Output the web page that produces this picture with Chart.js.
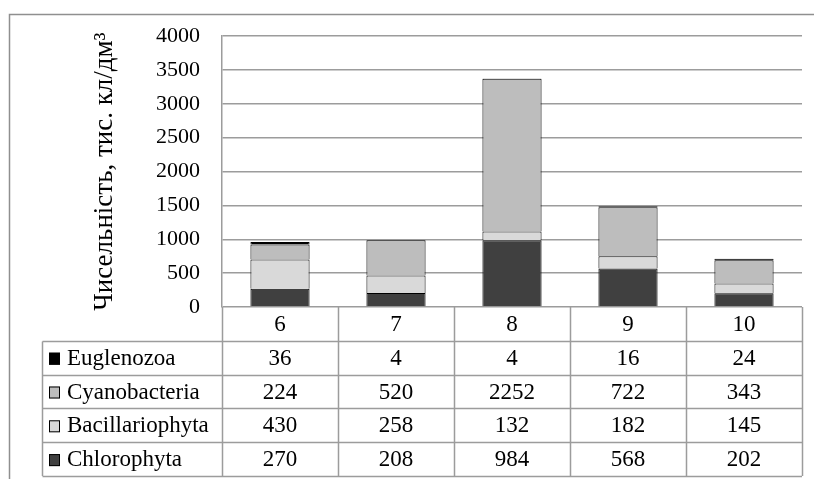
<!DOCTYPE html>
<html>
<head>
<meta charset="utf-8">
<script src="https://cdn.jsdelivr.net/npm/chart.js@4/dist/chart.umd.min.js"></script>
<style>
  body { margin: 0; background: #fff; }
  #wrap { width: 814px; height: 479px; position: relative; }
</style>
</head>
<body>
<div id="wrap"><canvas id="phyto"></canvas></div>
<script>
// month numbers along the bottom
const months = ['6', '7', '8', '9', '10'];
// cell counts per group, thousand cells/dm3
const chlorophyta = [270, 208, 984, 568, 202];
const bacillariophyta = [430, 258, 132, 182, 145];
const cyanobacteria = [224, 520, 2252, 722, 343];
const euglenozoa = [36, 4, 4, 16, 24];
const yMax = 4000, yStep = 500;

const serif = '"Liberation Serif", "Times New Roman", serif';
const lineGray = '#9c9c9c';

// frame round the whole figure (top and left edges only)
const frame = {
  id: 'frame',
  beforeDraw(chart) {
    const ctx = chart.ctx;
    ctx.save();
    ctx.strokeStyle = '#8f8f8f';
    ctx.lineWidth = 1.5;
    ctx.beginPath();
    ctx.moveTo(9.5, chart.height);
    ctx.lineTo(9.5, 14.5);
    ctx.lineTo(chart.width, 14.5);
    ctx.stroke();
    ctx.restore();
  }
};

// data table under the plot, columns follow the x scale
const dataTable = {
  id: 'dataTable',
  afterDraw(chart) {
    const ctx = chart.ctx;
    const xs = chart.scales.x;
    const area = chart.chartArea;
    const n = months.length;
    const colW = (area.right - area.left) / n;
    const top = area.bottom;
    const rowH = 33.8;
    const tableLeft = 42.5;
    const rows = chart.data.datasets.slice().reverse();
    const bottom = top + rowH * (rows.length + 1);

    ctx.save();
    ctx.strokeStyle = lineGray;
    ctx.lineWidth = 1.5;
    ctx.beginPath();
    for (let k = 1; k <= rows.length + 1; k++) {
      const y = Math.round(top + rowH * k) + 0.5;
      ctx.moveTo(tableLeft, y);
      ctx.lineTo(area.right, y);
    }
    ctx.moveTo(tableLeft, Math.round(top + rowH) + 0.5);
    ctx.lineTo(tableLeft, bottom);
    for (let i = 0; i <= n; i++) {
      const x = Math.round(area.left + colW * i) + 0.5;
      ctx.moveTo(x, top);
      ctx.lineTo(x, bottom);
    }
    ctx.stroke();

    ctx.font = '23px ' + serif;
    ctx.fillStyle = '#000';
    ctx.textBaseline = 'middle';
    ctx.textAlign = 'center';
    months.forEach((m, i) => {
      ctx.fillText(m, xs.getPixelForValue(i), top + rowH / 2 + 1);
    });

    rows.forEach((ds, r) => {
      const cy = top + rowH * (r + 1.5) + 1;
      // legend key
      ctx.fillStyle = ds.backgroundColor;
      ctx.fillRect(49, cy - 6, 11, 12);
      ctx.strokeStyle = '#000';
      ctx.lineWidth = 1;
      ctx.strokeRect(49.5, cy - 5.5, 10, 11);
      ctx.fillStyle = '#000';
      ctx.textAlign = 'left';
      ctx.fillText(ds.label, 67, cy);
      ctx.textAlign = 'center';
      ds.data.forEach((v, i) => {
        ctx.fillText(String(v), xs.getPixelForValue(i), cy);
      });
    });
    ctx.restore();
  }
};

const series = [
  { label: 'Chlorophyta', data: chlorophyta, color: '#404040' },
  { label: 'Bacillariophyta', data: bacillariophyta, color: '#d9d9d9' },
  { label: 'Cyanobacteria', data: cyanobacteria, color: '#bdbdbd' },
  { label: 'Euglenozoa', data: euglenozoa, color: '#000000' }
];

new Chart(document.getElementById('phyto'), {
  type: 'bar',
  data: {
    labels: months,
    datasets: series.map(s => ({
      label: s.label,
      data: s.data,
      backgroundColor: s.color,
      borderColor: '#000',
      borderWidth: 1,
      categoryPercentage: 1,
      barPercentage: 0.51
    }))
  },
  options: {
    responsive: true,
    maintainAspectRatio: false,
    animation: false,
    events: [],
    layout: { padding: { top: 36, right: 12, bottom: 172, left: 0 } },
    plugins: {
      legend: { display: false },
      tooltip: { enabled: false }
    },
    scales: {
      x: {
        display: false,
        stacked: true
      },
      y: {
        stacked: true,
        min: 0,
        max: yMax,
        afterFit(scale) { scale.width = 222; },
        ticks: {
          stepSize: yStep,
          padding: 22,
          color: '#000',
          font: { family: serif, size: 22 },
          callback: v => String(v)
        },
        grid: { color: lineGray, lineWidth: 1.5, drawTicks: false },
        border: { color: lineGray, width: 1.5 },
        title: {
          display: true,
          text: 'Чисельність, тис. кл/дм³',
          color: '#000',
          font: { family: serif, size: 27 },
          padding: { top: 89 }
        }
      }
    }
  },
  plugins: [frame, dataTable]
});
</script>
</body>
</html>
